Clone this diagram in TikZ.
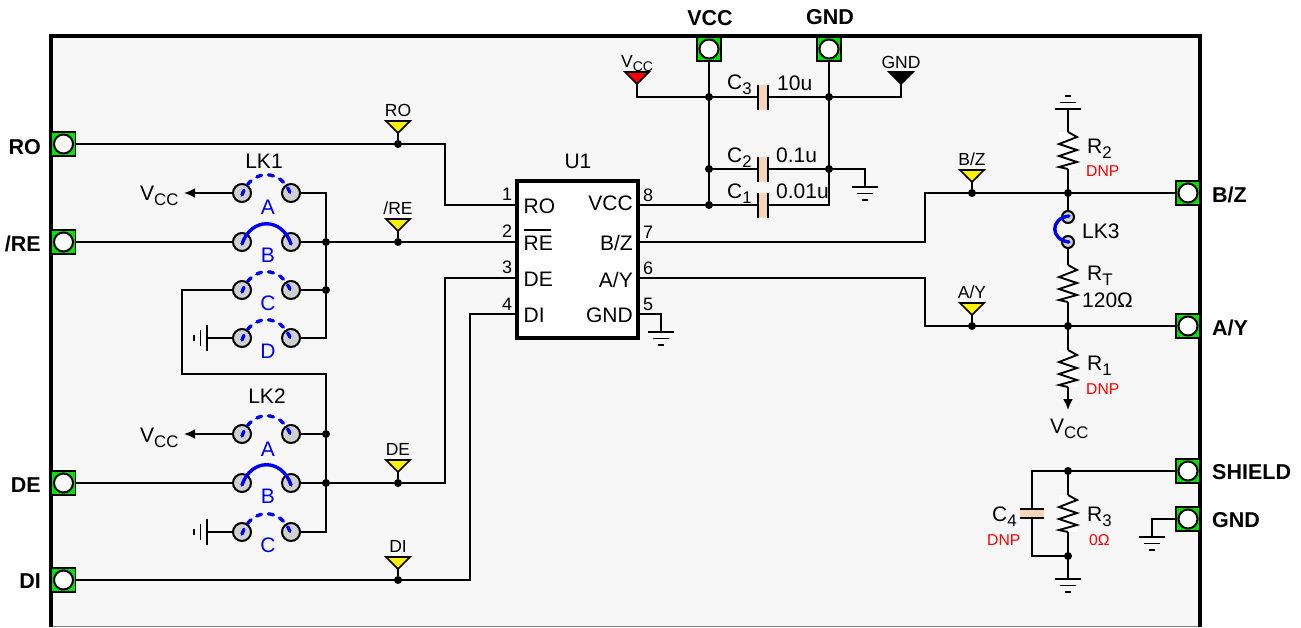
\documentclass[tikz,border=0pt]{standalone}
\usepackage{fontspec}
\setmainfont{Liberation Sans}
\usetikzlibrary{arrows.meta}
\definecolor{framebg}{RGB}{247,247,247}
\definecolor{conngreen}{RGB}{0,230,0}
\definecolor{capfill}{RGB}{248,213,184}
\definecolor{pingray}{RGB}{208,208,208}
\definecolor{jumpblue}{RGB}{0,0,240}
\newcommand{\lsub}[2]{#1\raisebox{-.25em}{\scalebox{.8}{#2}}}
\tikzset{
  wire/.style={line width=1.9pt},
  lbl/.style={anchor=base west,inner sep=0,font=\fontsize{21}{22}\selectfont},
  lblc/.style={lbl,anchor=base},
  lble/.style={lbl,anchor=base east},
  blbl/.style={lbl,font=\fontsize{21.5}{22}\selectfont\bfseries},
  bletter/.style={lblc,text=jumpblue},
  tplbl/.style={lblc,font=\fontsize{17.5}{18}\selectfont},
  pinlbl/.style={lblc,font=\fontsize{18}{18}\selectfont},
  dnplbl/.style={lbl,text=red,font=\fontsize{15.7}{16}\selectfont},
  dotnode/.style={circle,fill=black,inner sep=0,minimum size=8pt},
  connbox/.style={rectangle,draw,line width=1.7pt,fill=conngreen,inner sep=0,outer sep=0,minimum size=24pt},
  connhole/.style={circle,draw,line width=2pt,fill=white,inner sep=0,outer sep=0,minimum size=19pt},
  pinnode/.style={circle,draw,line width=2pt,fill=pingray,inner sep=0,outer sep=0,minimum size=18pt},
  smallpin/.style={pinnode,minimum size=12pt},
  jumpsolid/.style={line width=3.4pt,jumpblue,line cap=round},
  jumpdash/.style={jumpsolid,dash pattern=on 5pt off 7pt},
  endtip/.style={-{Latex[length=11pt,width=10pt]}},
  gndsym/.pic={\draw[wire] (-13,0) -- (13,0) (-8,6.5) -- (8,6.5) (-3,13) -- (3,13);}
}
\newcommand{\conn}[3]{\node[connbox] (#1) at (#2,#3) {}; \node[connhole] (#1-h) at (#1) {};}
\newcommand{\jumper}[3]{%
  \node[pinnode] (#1-l) at (242,#2) {}; \node[pinnode] (#1-r) at (291,#2) {};
  \draw[#3] (242,#2+2) .. controls (251,#2-25) and (282,#2-25) .. (291,#2+2);}
\newcommand{\tptri}[4]{%
  \draw[line width=1.7pt,fill=#4] (#2-12,#3) -- (#2+12,#3) -- (#2,#3+12) -- cycle;
  \coordinate (#1) at (#2,#3+12);}
\newcommand{\testpt}[4]{%
  \node[dotnode] (#1) at (#2,#3) {};
  \tptri{#1-t}{#2}{#3-23}{yellow}
  \draw[wire] (#1-t) -- (#1);
  \node[tplbl] (#1-l) at (#2,#3-27.5) {#4};}
\newcommand{\resistor}[3]{%
  \fill[white] (#2-9,#3) rectangle (#2+9,#3+37);
  \draw[wire] (#2,#3) -- (#2+9,#3+5) -- (#2-9,#3+12) -- (#2+9,#3+18) -- (#2-9,#3+24)
    -- (#2+9,#3+30) -- (#2-9,#3+35) -- (#2,#3+37);
  \coordinate (#1-t) at (#2,#3); \coordinate (#1-b) at (#2,#3+37);}
\newcommand{\capv}[2]{%
  \fill[capfill] (758,#2-12.5) rectangle (768,#2+12.5);
  \draw[wire] (758,#2-12.5) -- (758,#2+12.5) (768,#2-12.5) -- (768,#2+12.5);
  \coordinate (#1-l) at (758,#2); \coordinate (#1-r) at (768,#2);}

\begin{document}
\begin{tikzpicture}[x=1pt,y=-1pt]
  \useasboundingbox (0,0) rectangle (1301,627);
%  \draw[gray!50, thin, step=50] (0,0) grid (1301,627);

  \fill[framebg] (51,36) rectangle (1200,627);
  \draw[gray,line width=1pt] (51,626.5) -- (1200,626.5);
  \draw[line width=3.7pt] (51,627) -- (51,36) -- (1200,36) -- (1200,627);

  % connectors
  \conn{c-ro}{63.5}{144}
  \conn{c-re}{63.5}{242}
  \conn{c-de}{63.5}{483}
  \conn{c-di}{63.5}{580}
  \conn{c-vcc}{709}{49}
  \conn{c-gnd}{829}{49}
  \conn{c-bz}{1188}{193}
  \conn{c-ay}{1188}{326}
  \conn{c-sh}{1188}{471}
  \conn{c-gb}{1188}{519}
  \node[blbl,anchor=base east] (t-ro) at (41,154) {RO};
  \node[blbl,anchor=base east] (t-re) at (41,251) {/RE};
  \node[blbl,anchor=base east] (t-de) at (41,492) {DE};
  \node[blbl,anchor=base east] (t-di) at (41,588) {DI};
  \node[blbl,anchor=base] (t-vcc) at (710,25.5) {VCC};
  \node[blbl,anchor=base] (t-gnd) at (830,24) {GND};
  \node[blbl] (t-bz) at (1212,202) {B/Z};
  \node[blbl] (t-ay) at (1212,335) {A/Y};
  \node[blbl] (t-sh) at (1212,479) {SHIELD};
  \node[blbl] (t-gb) at (1212,527) {GND};

  % U1
  \node[draw,line width=3.4pt,fill=white,inner sep=0,outer sep=0,minimum width=121pt,minimum height=157pt] (u1) at (577.5,259.5) {};
  \node[lblc] (u1-n) at (578,168) {U1};
  \foreach \n/\y in {1/205,2/242,3/278,4/314} \coordinate (u1-\n) at (517,\y);
  \foreach \n/\y in {8/205,7/242,6/278,5/314} \coordinate (u1-\n) at (638,\y);
  \foreach \n/\y in {1/200.7,2/237,3/273,4/310} \node[pinlbl] (u1-n\n) at (507,\y) {\n};
  \foreach \n/\y in {8/201,7/238,6/274,5/310} \node[pinlbl] (u1-n\n) at (648,\y) {\n};
  \node[lbl] (u1-ro) at (523.5,213) {RO};
  \node[lbl] (u1-re) at (523.5,250.7) {RE};
  \draw[line width=1.5pt] ([yshift=6pt]u1-re.north west) -- ([yshift=6pt,xshift=-2pt]u1-re.north east);
  \node[lbl] (u1-de) at (523.5,286.7) {DE};
  \node[lbl] (u1-di) at (523.5,322.7) {DI};
  \node[lble] (u1-vcc) at (633,210.7) {VCC};
  \node[lble] (u1-bz) at (633,250.7) {B/Z};
  \node[lble] (u1-ay) at (633,287) {A/Y};
  \node[lble] (u1-gnd) at (633,322.7) {GND};

  % LK1, LK2
  \jumper{ja}{193}{jumpdash}
  \jumper{jb}{242}{jumpsolid}
  \jumper{jc}{290}{jumpdash}
  \jumper{jd}{338}{jumpdash}
  \jumper{je}{434}{jumpdash}
  \jumper{jf}{483}{jumpsolid}
  \jumper{jg}{532}{jumpdash}
  \node[lblc] (lk1) at (264,168) {LK1};
  \node[lblc] (lk2) at (267,403) {LK2};
  \foreach \l/\y [count=\i] in {A/214,B/262,C/310.7,D/358,A/456,B/503,C/552.7}
    \node[bletter] (jl\i) at (268,\y) {\l};

  \node[dotnode] (d-re) at (326,242) {};
  \node[dotnode] (d-c) at (326,290) {};
  \node[dotnode] (d-e) at (326,434) {};
  \node[dotnode] (d-de) at (326,483) {};
  \coordinate (b-a) at (326,193);
  \coordinate (b-d) at (326,338);
  \coordinate (b-g) at (326,532);
  \coordinate (l-a) at (182,290);
  \coordinate (l-b) at (182,374);
  \coordinate (l-c) at (326,374);
  \coordinate (v-a) at (184,193);
  \coordinate (v-e) at (184,434);
  \coordinate (g-d) at (207,338);
  \coordinate (g-g) at (207,532);
  \node[lbl] (v1) at (140,200) {\lsub{V}{CC}};
  \node[lbl] (v2) at (140,442) {\lsub{V}{CC}};
  \draw[wire,endtip] (ja-l) -- (v-a);
  \draw[wire,endtip] (je-l) -- (v-e);
  \draw[wire] (ja-r) -- (b-a) -- (b-d) -- (jd-r);
  \draw[wire] (jc-r) -- (d-c);
  \draw[wire] (jc-l) -- (l-a) -- (l-b) -- (l-c) -- (b-g) -- (jg-r);
  \draw[wire] (je-r) -- (d-e);
  \draw[wire] (jd-l) -- (g-d);
  \draw[wire] (jg-l) -- (g-g);
  \pic[rotate=-90] at (g-d) {gndsym};
  \pic[rotate=-90] at (g-g) {gndsym};

  % test points and left nets
  \testpt{tp-ro}{398}{144}{RO}
  \testpt{tp-re}{398}{242}{/RE}
  \testpt{tp-de}{398}{483}{DE}
  \testpt{tp-di}{398}{580}{DI}
  \coordinate (ro-a) at (445,144);
  \coordinate (ro-b) at (445,205);
  \coordinate (de-a) at (445,483);
  \coordinate (de-b) at (445,278);
  \coordinate (di-a) at (470,580);
  \coordinate (di-b) at (470,314);
  \draw[wire] (c-ro) -- (tp-ro.center) -- (ro-a) -- (ro-b) -- (u1-1);
  \draw[wire] (c-re) -- (jb-l);
  \draw[wire] (jb-r) -- (d-re.center) -- (tp-re.center) -- (u1-2);
  \draw[wire] (c-de) -- (jf-l);
  \draw[wire] (jf-r) -- (d-de.center) -- (tp-de.center) -- (de-a) -- (de-b) -- (u1-3);
  \draw[wire] (c-di) -- (tp-di.center) -- (di-a) -- (di-b) -- (u1-4);

  % decoupling
  \capv{c3}{97}
  \capv{c2}{169}
  \capv{c1}{205}
  \node[dotnode] (d-v3) at (709,97) {};
  \node[dotnode] (d-v2) at (709,169) {};
  \node[dotnode] (d-v1) at (709,205) {};
  \node[dotnode] (d-g3) at (829,97) {};
  \node[dotnode] (d-g2) at (829,169) {};
  \coordinate (g-c1) at (829,205);
  \coordinate (g-r) at (865,169);
  \coordinate (g-b) at (865,187);
  \coordinate (g5-a) at (661,314);
  \coordinate (g5-b) at (661,332);
  \coordinate (vt-a) at (637,97);
  \coordinate (gt-a) at (901,97);
  \tptri{vt}{637}{72}{red}
  \tptri{gt}{901}{72}{black}
  \node[tplbl,anchor=base west] (vt-l) at (621,67) {\lsub{V}{CC}};
  \node[tplbl] (gt-l) at (901,68) {GND};
  \draw[wire] (c-vcc) -- (d-v1.center);
  \draw[wire] (c-gnd) -- (g-c1) -- (c1-r);
  \draw[wire] (vt) -- (vt-a) -- (d-v3.center) -- (c3-l);
  \draw[wire] (c3-r) -- (d-g3.center) -- (gt-a) -- (gt);
  \draw[wire] (d-v2.center) -- (c2-l);
  \draw[wire] (c2-r) -- (d-g2.center) -- (g-r) -- (g-b);
  \draw[wire] (u1-8) -- (d-v1.center) -- (c1-l);
  \draw[wire] (u1-5) -- (g5-a) -- (g5-b);
  \pic at (g-b) {gndsym};
  \pic at (g5-b) {gndsym};
  \node[lbl] (c3-t) at (727,89.5) {\lsub{C}{3}};
  \node[lbl] (c2-t) at (727,162) {\lsub{C}{2}};
  \node[lbl] (c1-t) at (727,198) {\lsub{C}{1}};
  \node[lbl] (c3-v) at (777,90) {10u};
  \node[lbl] (c2-v) at (776,162.5) {0.1u};
  \node[lbl] (c1-v) at (776,198.5) {0.01u};

  % bus termination
  \testpt{tp-bz}{972}{193}{B/Z}
  \testpt{tp-ay}{972}{326}{A/Y}
  \resistor{r2}{1068}{132}
  \resistor{rt}{1068}{265}
  \resistor{r1}{1068}{350}
  \node[dotnode] (d-bz) at (1068,193) {};
  \node[dotnode] (d-ay) at (1068,326) {};
  \node[smallpin] (lk-t) at (1068,217) {};
  \node[smallpin] (lk-b) at (1068,242) {};
  \draw[jumpsolid] (1069,216) .. controls (1050,218) and (1050,240) .. (1069,242);
  \coordinate (bz-a) at (925,242);
  \coordinate (bz-b) at (925,193);
  \coordinate (ay-a) at (925,278);
  \coordinate (ay-b) at (925,326);
  \coordinate (r2-g) at (1068,109);
  \coordinate (r1-v) at (1068,410);
  \draw[wire] (u1-7) -- (bz-a) -- (bz-b) -- (tp-bz.center) -- (d-bz.center) -- (c-bz);
  \draw[wire] (u1-6) -- (ay-a) -- (ay-b) -- (tp-ay.center) -- (d-ay.center) -- (c-ay);
  \draw[wire] (r2-g) -- (r2-t);
  \draw[wire] (r2-b) -- (d-bz.center) -- (lk-t);
  \draw[wire] (lk-b) -- (rt-t);
  \draw[wire] (rt-b) -- (d-ay.center) -- (r1-t);
  \draw[wire,endtip] (r1-b) -- (r1-v);
  \pic[rotate=180] at (r2-g) {gndsym};
  \node[lbl] (r2-l) at (1087,153) {\lsub{R}{2}};
  \node[dnplbl] (r2-d) at (1086,176) {DNP};
  \node[lbl] (lk3) at (1082,238) {LK3};
  \node[lbl] (rt-l) at (1087,280) {\lsub{R}{T}};
  \node[lbl] (rt-v) at (1082,307) {120Ω};
  \node[lbl] (r1-l) at (1087,370) {\lsub{R}{1}};
  \node[dnplbl] (r1-d) at (1086,394) {DNP};
  \node[lbl] (v3) at (1050,433) {\lsub{V}{CC}};

  % shield
  \resistor{r3}{1068}{495}
  \node[dotnode] (d-sh) at (1068,471) {};
  \node[dotnode] (d-r3) at (1068,556) {};
  \fill[capfill] (1020,509) rectangle (1044,518);
  \draw[wire] (1020,509) -- (1044,509) (1020,518) -- (1044,518);
  \coordinate (c4-t) at (1032,509);
  \coordinate (c4-b) at (1032,518);
  \coordinate (sh-a) at (1032,471);
  \coordinate (sh-b) at (1032,556);
  \coordinate (r3-g) at (1068,579);
  \coordinate (gb-a) at (1152,519);
  \coordinate (gb-b) at (1152,537);
  \draw[wire] (c-sh) -- (d-sh.center) -- (sh-a) -- (c4-t);
  \draw[wire] (c4-b) -- (sh-b) -- (d-r3.center) -- (r3-g);
  \draw[wire] (d-sh.center) -- (r3-t);
  \draw[wire] (r3-b) -- (d-r3.center);
  \draw[wire] (c-gb) -- (gb-a) -- (gb-b);
  \pic at (r3-g) {gndsym};
  \pic at (gb-b) {gndsym};
  \node[lbl] (c4-l) at (992,521) {\lsub{C}{4}};
  \node[dnplbl] (c4-d) at (987,545) {DNP};
  \node[lbl] (r3-l) at (1087,521) {\lsub{R}{3}};
  \node[dnplbl] (r3-d) at (1089,545) {0Ω};
\end{tikzpicture}
\end{document}
